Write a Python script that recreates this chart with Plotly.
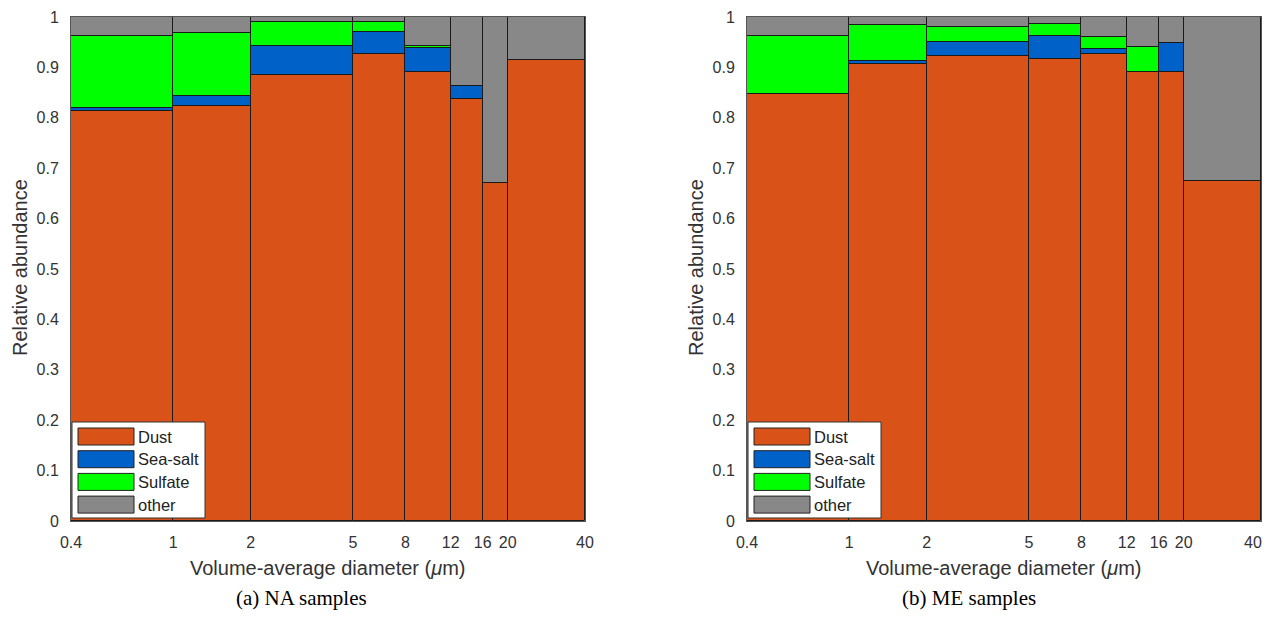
import numpy as np
import plotly.graph_objects as go

OFF = 8  # page body margin in the browser
W, H = 1272 - OFF, 628 - OFF

# ---------------- data ----------------
bin_edges = [0.4, 1, 2, 5, 8, 12, 16, 20, 40]
tick_labels = ["0.4", "1", "2", "5", "8", "12", "16", "20", "40"]
y_ticks = [0.0, 0.1, 0.2, 0.3, 0.4, 0.5, 0.6, 0.7, 0.8, 0.9, 1.0]
y_tick_labels = ["0", "0.1", "0.2", "0.3", "0.4", "0.5", "0.6", "0.7", "0.8", "0.9", "1"]
components = ["Dust", "Sea-salt", "Sulfate", "other"]
colors = {"Dust": "#D95319", "Sea-salt": "#0062C8", "Sulfate": "#00FF00", "other": "#888888"}

na_dust     = [0.814, 0.824, 0.884, 0.927, 0.891, 0.837, 0.671, 0.915]
na_seasalt  = [0.005, 0.019, 0.059, 0.043, 0.047, 0.027, 0.000, 0.000]
na_sulfate  = [0.143, 0.125, 0.048, 0.021, 0.005, 0.000, 0.000, 0.000]
na_other    = [0.038, 0.032, 0.009, 0.009, 0.057, 0.136, 0.329, 0.085]

me_dust     = [0.847, 0.907, 0.923, 0.917, 0.927, 0.890, 0.891, 0.675]
me_seasalt  = [0.001, 0.005, 0.027, 0.046, 0.010, 0.000, 0.057, 0.000]
me_sulfate  = [0.114, 0.072, 0.031, 0.024, 0.023, 0.050, 0.000, 0.000]
me_other    = [0.038, 0.016, 0.019, 0.013, 0.040, 0.060, 0.052, 0.325]

panels = [
    {"series": [na_dust, na_seasalt, na_sulfate, na_other], "caption": "(a) NA samples"},
    {"series": [me_dust, me_seasalt, me_sulfate, me_other], "caption": "(b) ME samples"},
]

# ---------------- layout geometry (pixels in the screenshot) ----------------
plot_px = [(71, 585), (747, 1261)]
caption_cx = [301, 969]
top_px, bot_px = 17, 521


def px_x(x):
    return (x - OFF) / W


def px_y(y):
    return 1 - (y - OFF) / H


log_edges = np.log10(bin_edges)
centers = (log_edges[:-1] + log_edges[1:]) / 2
widths = log_edges[1:] - log_edges[:-1]

fig = go.Figure()
sans = "Liberation Sans, Arial, sans-serif"
axis_font = dict(family=sans, size=16, color="#333333")
title_font = dict(family=sans, size=20, color="#333333")

for i, p in enumerate(panels):
    xa = "x" if i == 0 else "x2"
    ya = "y" if i == 0 else "y2"
    base = np.zeros(len(centers))
    for name, vals in zip(components, p["series"]):
        vals = np.array(vals)
        fig.add_trace(go.Bar(
            x=centers, y=vals, base=base, width=widths,
            marker=dict(color=colors[name], line=dict(color="#1a1a1a", width=1)),
            name=name, showlegend=False, xaxis=xa, yaxis=ya,
            hovertemplate=name + ": %{y:.3f}<extra></extra>",
        ))
        base = base + vals

    x0, x1 = plot_px[i]
    sfx = "" if i == 0 else "2"
    # the right-most label of the right panel sits at the window edge; draw it as
    # a right-anchored annotation so it is not clipped
    ticktext = list(tick_labels) if i == 0 else list(tick_labels[:-1]) + [""]
    fig.layout["xaxis" + sfx] = dict(
        domain=[px_x(x0), px_x(x1)], anchor=ya, range=[log_edges[0], log_edges[-1]],
        tickvals=list(log_edges), ticktext=ticktext, ticks="", showgrid=False,
        zeroline=False, showline=True, linecolor="#555555", linewidth=1, mirror=True,
        tickfont=axis_font, ticklabelstandoff=7, automargin=False,
    )
    fig.layout["yaxis" + sfx] = dict(
        domain=[px_y(bot_px), px_y(top_px)], anchor=xa, range=[0, 1],
        tickvals=y_ticks, ticktext=y_tick_labels,
        ticks="", showgrid=False, zeroline=False, showline=True, linecolor="#555555",
        linewidth=1, mirror=True, tickfont=axis_font, ticklabelstandoff=8, automargin=False,
    )
    if i == 1:
        fig.add_annotation(
            x=px_x(1263), y=px_y(542), xref="paper", yref="paper",
            text=tick_labels[-1], showarrow=False, xanchor="right", yanchor="middle",
            font=axis_font, borderpad=0,
        )

    # axis titles
    fig.add_annotation(
        x=px_x((x0 + x1) / 2), y=px_y(568), xref="paper", yref="paper",
        text="Volume-average diameter (<i>μ</i>m)", showarrow=False,
        xanchor="center", yanchor="middle", font=title_font,
    )
    fig.add_annotation(
        x=px_x(x0 - 51), y=px_y(268), xref="paper", yref="paper",
        text="Relative abundance", showarrow=False, textangle=-90,
        xanchor="center", yanchor="middle", font=title_font,
    )

    # caption
    fig.add_annotation(
        x=px_x(caption_cx[i]), y=px_y(598), xref="paper", yref="paper",
        text=p["caption"], showarrow=False, xanchor="center", yanchor="middle",
        font=dict(family="Liberation Serif, Times New Roman, serif", size=21, color="black"),
    )

    # legend box (drawn manually to match MATLAB style)
    lx0, lx1 = x0 + 1, x0 + 134
    ly0, ly1 = 422, 518
    fig.add_shape(type="rect", xref="paper", yref="paper",
                  x0=px_x(lx0), x1=px_x(lx1), y0=px_y(ly1), y1=px_y(ly0),
                  fillcolor="white", line=dict(color="#333333", width=1), layer="above")
    for k, name in enumerate(components):
        sy0 = 428 + 22.7 * k
        sy1 = sy0 + 17
        fig.add_shape(type="rect", xref="paper", yref="paper",
                      x0=px_x(x0 + 7), x1=px_x(x0 + 63), y0=px_y(sy1), y1=px_y(sy0),
                      fillcolor=colors[name], line=dict(color="#222222", width=1), layer="above")
        fig.add_annotation(x=px_x(x0 + 65), y=px_y((sy0 + sy1) / 2), xref="paper", yref="paper",
                           text=name, showarrow=False, xanchor="left", yanchor="middle",
                           font=dict(family=sans, size=16.5, color="#222222"))

fig.update_layout(
    width=W, height=H, margin=dict(l=0, r=0, t=0, b=0, autoexpand=False),
    paper_bgcolor="white", plot_bgcolor="white", barmode="overlay", bargap=0,
    showlegend=False,
)

fig.write_html("out.html")
